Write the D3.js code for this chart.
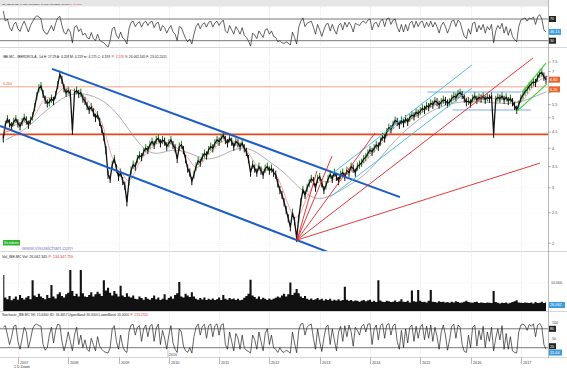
<!DOCTYPE html>
<html>
<head>
<meta charset="utf-8">
<script src="https://cdn.jsdelivr.net/npm/d3@7"></script>
<style>
  body { margin: 0; background: #fff; }
  svg { display: block; font-family: "Liberation Sans", Arial, sans-serif; }
</style>
</head>
<body>
<div class="chart"></div>
<script>
// Step 1: data (half-month bars from Sep 2006)
const priceClose = [
  4.30,4.75,4.95,4.80,4.70,4.85,4.95,4.80,4.70,4.85,
  5.00,4.90,4.75,4.90,5.05,5.40,5.85,6.20,6.30,5.95,
  5.70,5.55,5.60,5.75,5.65,5.90,6.35,6.85,6.60,6.20,
  6.00,6.10,5.95,4.55,6.00,6.10,5.95,6.00,5.75,5.65,
  5.45,5.30,5.40,5.20,5.00,5.10,4.85,4.60,4.35,3.95,
  3.30,3.20,3.55,3.70,3.45,3.25,3.35,3.15,3.05,2.70,
  3.15,3.40,3.55,3.50,3.70,3.80,3.75,3.90,4.00,3.95,
  4.10,4.20,4.10,4.25,4.30,4.15,4.25,4.20,4.05,4.15,
  4.25,4.10,4.00,3.70,4.05,4.10,3.95,3.70,3.45,3.35,
  3.15,3.30,3.50,3.65,3.60,3.75,3.85,3.80,3.95,4.05,
  4.00,4.15,4.25,4.20,4.30,4.40,4.25,4.15,4.30,4.20,
  4.05,4.20,4.15,4.05,4.15,4.00,3.90,3.70,3.35,3.55,
  3.45,3.35,3.50,3.40,3.30,3.45,3.50,3.40,3.45,3.35,
  3.30,3.10,2.95,2.85,2.70,2.55,2.40,2.25,2.50,2.35,
  2.08,2.40,2.70,2.95,2.85,3.00,3.10,3.20,3.15,3.00,
  3.20,3.25,3.10,2.95,3.05,3.20,3.30,3.20,3.35,3.25,
  3.15,3.30,3.35,3.25,3.40,3.35,3.50,3.45,3.35,3.50,
  3.55,3.60,3.70,3.75,3.85,3.95,3.90,4.00,4.10,4.05,
  4.20,4.35,4.30,4.50,4.65,4.60,4.75,4.90,4.85,4.75,
  4.90,4.80,4.95,4.85,5.00,5.10,5.05,5.20,5.15,5.25,
  5.35,5.30,5.45,5.40,5.55,5.50,5.65,5.60,5.50,5.60,
  5.70,5.65,5.55,5.60,5.75,5.85,5.80,5.95,6.00,5.90,
  5.75,5.60,5.65,5.55,5.75,5.85,5.70,5.80,5.75,5.85,
  5.70,5.80,5.75,5.85,4.45,5.70,5.80,5.75,5.85,5.70,
  5.80,5.65,5.75,5.60,5.45,5.30,5.50,5.75,5.90,6.05,
  6.15,6.30,6.40,6.50,6.45,6.70,6.90,6.95,6.75,6.60
];

// red short average, one value every 4 bars
const maFast = [
  4.40,4.70,4.82,4.82,5.15,5.95,5.65,6.30,6.15,6.00,
  5.75,5.25,4.75,3.60,3.45,3.00,3.55,3.85,4.10,4.22,
  4.15,3.95,3.80,3.35,3.70,3.95,4.22,4.28,4.15,4.02,
  3.55,3.40,3.45,3.18,2.62,2.30,2.72,3.10,3.15,3.12,
  3.25,3.32,3.42,3.58,3.85,4.08,4.45,4.78,4.85,5.00,
  5.22,5.42,5.56,5.62,5.75,5.90,5.64,5.77,5.77,5.75,
  5.77,5.60,5.60,6.22,6.62,6.78
];

// grey long average, quarterly from Oct 2006
const maSlow = [
  4.25,4.44,4.74,5.18,5.57,5.93,5.99,5.86,5.60,5.10,
  4.47,3.95,3.81,3.95,3.95,3.81,3.67,3.75,3.95,4.04,
  3.90,3.62,3.41,3.10,2.84,2.74,2.84,3.00,3.17,3.41,
  3.81,4.25,4.63,4.99,5.29,5.49,5.60,5.65,5.60,5.57,
  5.53,5.60,5.82,6.03
];

const rsiValues = [
  85,66,70,55,48,60,64,52,47,58, 66,56,46,58,65,72,76,74,70,50,
  44,42,50,58,48,62,72,75,58,45, 42,52,46,26,55,58,47,52,40,44,
  36,33,45,34,30,42,31,28,26,22, 18,30,52,55,40,34,46,35,32,24,
  52,64,66,56,62,65,55,63,66,58, 64,66,54,62,64,48,58,54,44,52,
  58,46,42,30,56,54,44,34,28,33, 24,42,56,62,52,60,63,55,64,66,
  55,63,66,58,64,68,48,44,58,50, 42,56,50,42,54,40,36,30,20,44,
  40,34,48,42,36,50,52,42,48,38, 36,28,30,26,25,28,26,22,46,36,
  24,55,66,72,56,62,64,66,55,42, 60,50,38,50,60,62,48,60,50,42,
  58,62,50,64,55,64,58,46,62,60, 58,64,66,62,68,70,50,62,64,55,
  66,70,56,70,72,60,68,70,55,46, 60,46,60,48,62,66,54,66,56,64,
  66,54,64,56,66,55,64,56,44,58, 64,56,44,54,66,68,56,68,64,50,
  38,34,52,42,62,64,46,58,50,60, 44,56,50,60,26,48,58,52,62,44,
  56,40,52,38,32,28,56,68,70,72, 66,72,70,74,60,74,78,70,50,46
];

const stochValues = [
  85,90,60,30,55,88,92,40,15,50, 85,70,20,45,80,92,95,90,88,30,
  12,20,60,85,35,75,95,92,40,10, 35,70,40,10,60,85,30,60,20,45,
  15,8,50,30,10,55,25,15,8,5, 3,20,80,90,40,15,60,25,10,5,
  70,92,94,60,85,90,40,80,92,55, 88,94,40,82,95,30,75,50,15,60,
  90,35,15,5,80,70,25,10,5,20, 3,55,85,95,60,88,94,50,90,95,
  55,90,96,60,92,96,30,15,70,40, 10,65,50,15,60,20,12,8,3,60,
  45,15,70,40,10,65,80,30,60,20, 15,5,20,8,5,12,8,3,70,35,
  4,75,95,97,60,85,92,95,50,15, 80,40,8,50,85,92,30,80,45,10,
  70,88,40,90,55,92,70,25,85,75, 60,88,94,70,95,96,30,80,92,45,
  90,96,50,92,97,60,90,95,40,15, 75,20,80,35,85,92,40,88,50,85,
  94,45,88,50,92,40,85,55,15,70, 92,60,12,45,88,95,50,92,85,30,
  8,5,60,20,85,92,25,75,45,88, 20,70,40,85,10,50,80,45,90,15,
  65,15,55,10,5,3,70,92,95,90, 75,94,88,96,55,92,97,85,30,15
];

// volume, thousands of shares
const volumeValues = [
  13000,4600,4000,5200,3600,4200,5000,3800,5600,4400, 3900,4600,5200,4000,11000,5400,4800,6000,5000,4400,
  4000,5600,4400,9300,5000,4300,5800,6600,5200,4600, 5800,6400,14800,7000,5200,6000,5000,14800,6200,5000,
  4800,5600,6600,5000,5800,6800,6000,5200,11000,7200, 8200,6400,5400,7000,6000,5000,9000,5400,4800,6200,
  5000,4600,5400,4200,4000,5000,4400,3800,4800,4200, 3800,4400,5400,4000,4600,3700,4200,5800,3800,4400,
  5000,4200,5600,6200,10400,5000,4600,6000,5400,4800, 6600,5000,4200,3800,4400,3900,4600,3700,4200,3800,
  4300,3700,4000,4600,3700,5600,4200,3800,4400,4000, 4300,3700,4200,3600,3800,4500,5200,6000,11200,5400,
  4800,4200,5000,4000,4500,4200,3700,4300,3800,4200, 4500,5000,4600,5400,6000,5000,5800,10200,5600,6400,
  7800,6200,5000,4400,5200,4200,3800,4300,3700,4000, 4400,3800,4200,3500,4000,3700,4200,3400,3800,3500,
  4000,3400,3700,8600,3800,3400,3700,3200,3500,3400, 3100,3400,3700,3200,3500,3800,3100,3400,3000,11000,
  3500,3100,3000,3400,3200,3000,3100,3500,3000,3200, 4000,3100,3000,3400,2800,7200,3200,3100,7400,3400,
  3000,3100,2800,3400,7400,3100,3000,2800,3200,3000, 3100,2800,3000,2700,3100,2800,3200,3000,2700,2800,
  3100,3400,3000,2800,2700,3000,3100,2600,2800,2700, 2600,2800,2700,2600,7000,3000,2700,2400,2700,2600,
  2800,2400,2700,3000,3200,3600,2800,2700,2600,2800, 2700,2600,2800,2400,3000,2600,2700,3100,2600,2800
];

const yearTicks = [2007,2008,2009,2010,2011,2012,2013,2014,2015,2016,2017];
const priceTicks = [2,2.5,3,3.5,4,4.5,5,5.5,6,6.5,7,7.5];

// hand-drawn lines: [fromYear, fromPrice, toYear, toPrice]
const blueChannel = [[2007.676,7.14,2014.594,2.80],[2006.642,4.71,2013.262,1.85]];
const cyanChannel = [[2013.262,3.34,2016.026,7.35],[2013.203,2.80,2016.026,6.21]];
const greenChannel = [[2017.02,6.03,2017.497,7.45],[2016.901,5.21,2017.517,6.40]];
const fanPivot = [2012.547,2.048];
const fanTargets = [[2012.944,3.39],[2013.243,3.78],[2014.097,4.47],[2017.239,7.73],[2017.378,3.59]];
const rangeBox = [[2015.14,2017.0,6.03],[2015.64,2017.2,5.29]];
const supportLevel = 4.43;
const resistLevel = 6.264;

// Step 2: set up the chart
const svgWidth = 567;
const svgHeight = 368;
const plotRight = 548;

const svg = d3.select(".chart")
    .append("svg")
    .attr("width", svgWidth)
    .attr("height", svgHeight);

const halfMonth = 365.25 / 24 * 864e5;
const firstBar = new Date(2006, 8, 16).getTime();
const barDate = i => new Date(firstBar + i * halfMonth);
const yearDate = yr => {
    const f = Math.floor(yr);
    return new Date(new Date(f, 0, 1).getTime() + (yr - f) * 365.25 * 864e5);
};

const x = d3.scaleTime()
    .domain([new Date(2007, 0, 1), new Date(2017, 0, 1)])
    .range([18, 521]);
const yPrice = d3.scaleLog().domain([2, 4]).range([243.3, 148.3]);
const yRsi = d3.scaleLinear().domain([30, 70]).range([40.7, 19]);
const yVol = d3.scaleLinear().domain([0, 10000]).range([310, 283]);
const yStoch = d3.scaleLinear().domain([0, 100]).range([354, 322.5]);

const defs = svg.append("defs");
function addClip(id, y0, y1) {
    defs.append("clipPath").attr("id", id)
        .append("rect").attr("x", 0).attr("y", y0)
        .attr("width", plotRight).attr("height", y1 - y0);
}
addClip("clipRsi", 7, 47);
addClip("clipPrice", 48, 251);
addClip("clipVol", 262, 311);
addClip("clipStoch", 317, 357);

// header strip + panel separators
svg.append("rect").attr("x", 0).attr("y", 0).attr("width", plotRight).attr("height", 6.5).attr("fill", "#e6e6e6");
[47.5, 251.5, 311.5, 357.5].forEach(yy => {
    svg.append("line").attr("x1", 0).attr("x2", svgWidth).attr("y1", yy).attr("y2", yy)
        .attr("stroke", "#c4c4c4").attr("stroke-width", 0.7);
});
svg.append("line").attr("x1", plotRight + 0.5).attr("x2", plotRight + 0.5)
    .attr("y1", 0).attr("y2", 358).attr("stroke", "#999").attr("stroke-width", 0.7);

// vertical year grid
yearTicks.forEach(yr => {
    const xx = Math.round(x(new Date(yr, 0, 1))) + 0.5;
    svg.append("line").attr("x1", xx).attr("x2", xx).attr("y1", 7).attr("y2", 357)
        .attr("stroke", "#dcdcdc").attr("stroke-width", 0.6).attr("stroke-dasharray", "1,1");
    svg.append("line").attr("x1", xx).attr("x2", xx).attr("y1", 357.5).attr("y2", 364)
        .attr("stroke", "#888").attr("stroke-width", 0.6);
    svg.append("text").attr("x", xx + 1.5).attr("y", 363.5)
        .attr("font-size", 3.8).attr("fill", "#444").text(yr);
});

// value boxes on the right axis (price)
const lastPrice = priceClose[priceClose.length - 1];
const priceBoxY = [yPrice(lastPrice), yPrice(resistLevel) + 2.5];

// faint price grid
priceTicks.forEach(p => {
    const yy = yPrice(p);
    svg.append("line").attr("x1", 0).attr("x2", plotRight).attr("y1", yy).attr("y2", yy)
        .attr("stroke", "#ececec").attr("stroke-width", 0.5).attr("stroke-dasharray", "1,1");
    svg.append("line").attr("x1", plotRight).attr("x2", plotRight + 3).attr("y1", yy).attr("y2", yy)
        .attr("stroke", "#777").attr("stroke-width", 0.5);
    if (priceBoxY.every(b => Math.abs(b - yy) > 5)) {
        svg.append("text").attr("x", plotRight + 4).attr("y", yy + 1.3)
            .attr("font-size", 3.8).attr("fill", "#444").text(p);
    }
});

// Step 3: RSI panel
const rsiGroup = svg.append("g").attr("clip-path", "url(#clipRsi)");
[70, 30].forEach(v => {
    rsiGroup.append("line").attr("x1", 0).attr("x2", plotRight).attr("y1", yRsi(v)).attr("y2", yRsi(v))
        .attr("stroke", "#555").attr("stroke-width", 0.8);
});
rsiGroup.append("path")
    .datum(rsiValues)
    .attr("d", d3.line().x((d, i) => x(barDate(i))).y(d => yRsi(d)))
    .attr("fill", "none").attr("stroke", "#222").attr("stroke-width", 0.7);

// Step 4: price panel
const priceGroup = svg.append("g").attr("clip-path", "url(#clipPrice)");
function seg(g, a, color, w) {
    g.append("line")
        .attr("x1", x(yearDate(a[0]))).attr("y1", yPrice(a[1]))
        .attr("x2", x(yearDate(a[2]))).attr("y2", yPrice(a[3]))
        .attr("stroke", color).attr("stroke-width", w);
}

priceGroup.append("line").attr("x1", 0).attr("x2", plotRight)
    .attr("y1", yPrice(resistLevel)).attr("y2", yPrice(resistLevel))
    .attr("stroke", "#f29b7c").attr("stroke-width", 0.9);
priceGroup.append("line").attr("x1", 0).attr("x2", plotRight)
    .attr("y1", yPrice(supportLevel)).attr("y2", yPrice(supportLevel))
    .attr("stroke", "#e4471f").attr("stroke-width", 1.8);

rangeBox.forEach(r => {
    priceGroup.append("line")
        .attr("x1", x(yearDate(r[0]))).attr("x2", x(yearDate(r[1])))
        .attr("y1", yPrice(r[2])).attr("y2", yPrice(r[2]))
        .attr("stroke", "#a9c9ee").attr("stroke-width", 1.4);
});

priceGroup.append("path")
    .datum(maSlow)
    .attr("d", d3.line().curve(d3.curveBasis).x((d, i) => x(yearDate(2006.75 + i * 0.25))).y(d => yPrice(d)))
    .attr("fill", "none").attr("stroke", "#8c8c8c").attr("stroke-width", 0.7);

priceGroup.append("path")
    .datum(maFast)
    .attr("d", d3.line().curve(d3.curveBasis).x((d, i) => x(barDate(i * 4))).y(d => yPrice(d)))
    .attr("fill", "none").attr("stroke", "#f06a6a").attr("stroke-width", 0.6);

// price bars and close line
priceGroup.selectAll(".bar")
    .data(priceClose)
    .enter()
    .append("line")
    .attr("x1", (d, i) => x(barDate(i))).attr("x2", (d, i) => x(barDate(i)))
    .attr("y1", d => yPrice(d * 1.03)).attr("y2", d => yPrice(d * 0.97))
    .attr("stroke", (d, i) => i > 0 && d >= priceClose[i - 1] ? "#1f7f1f" : "#111")
    .attr("stroke-width", 1);
priceGroup.append("path")
    .datum(priceClose)
    .attr("d", d3.line().x((d, i) => x(barDate(i))).y(d => yPrice(d)))
    .attr("fill", "none").attr("stroke", "#111").attr("stroke-width", 1.3);

// trend lines drawn on top
blueChannel.forEach(l => seg(priceGroup, l, "#1c5cc8", 2));
cyanChannel.forEach(l => seg(priceGroup, l, "#3cb4e4", 0.9));
greenChannel.forEach(l => seg(priceGroup, l, "#39d12f", 1.1));
fanTargets.forEach(t => seg(priceGroup, [fanPivot[0], fanPivot[1], t[0], t[1]], "#e32222", 0.9));

// Step 5: volume panel
const volGroup = svg.append("g").attr("clip-path", "url(#clipVol)");
volGroup.append("line").attr("x1", 0).attr("x2", plotRight).attr("y1", yVol(10000)).attr("y2", yVol(10000))
    .attr("stroke", "#e2e2e2").attr("stroke-width", 0.5).attr("stroke-dasharray", "1,1");
volGroup.append("path")
    .datum(volumeValues)
    .attr("d", d3.area().curve(d3.curveStep)
        .x((d, i) => x(barDate(i))).y0(311).y1(d => yVol(d)))
    .attr("fill", "#111");

// Step 6: stochastic panel
const stochGroup = svg.append("g").attr("clip-path", "url(#clipStoch)");
[80, 20].forEach(v => {
    stochGroup.append("line").attr("x1", 0).attr("x2", plotRight).attr("y1", yStoch(v)).attr("y2", yStoch(v))
        .attr("stroke", "#555").attr("stroke-width", 0.8);
});
stochGroup.append("path")
    .datum(stochValues)
    .attr("d", d3.line().x((d, i) => x(barDate(i))).y(d => yStoch(d)))
    .attr("fill", "none").attr("stroke", "#222").attr("stroke-width", 0.7);

// Step 7: headers, sized so each line spans the width seen in the picture
function header(parts, x0, y0, total) {
    const nodes = parts.map(p => svg.append("text").attr("y", y0)
        .attr("font-size", 10).attr("fill", p[1]).text(p[0]));
    const gap = 2.8;
    const widths = nodes.map(n => n.node().getComputedTextLength());
    const k = total / (d3.sum(widths) + gap * (parts.length - 1));
    let xx = x0;
    nodes.forEach((n, i) => {
        n.attr("font-size", 10 * k).attr("x", xx);
        xx += (widths[i] + gap) * k;
    });
}
header([["RSI_IBE.MC RSI: 46.1500 UpperBand: 70.0000 LowerBand: 30.0000", "#222"],
        ["P: 414.3667", "#e03030"]], 2, 5, 80);
header([["IBE.MC - IBERDROLA - 1d  H: 17:29  A: 4.209  M: 4.219  m: 4.175  C: 4.193", "#222"],
        ["P: 1.576", "#e03030"], ["V: 26.062.345  F: 23-02-2011", "#222"]], 3, 57.5, 164);
header([["Vol_IBE.MC Vol: 26.062.345", "#222"], ["P: 134.347.750", "#e03030"]], 2, 257.5, 71);
header([["Stochastic_IBE.MC SK: 15.6400 SD: 34.4657 UpperBand: 80.0000 LowerBand: 20.0000", "#222"],
        ["P: 223.2700", "#e03030"]], 2, 315.5, 146);

svg.append("text").attr("x", 3).attr("y", yPrice(resistLevel) - 1.5).attr("font-size", 3.6)
    .attr("fill", "#e4602f").text(resistLevel);
svg.append("text").attr("x", 3).attr("y", yPrice(supportLevel) - 2).attr("font-size", 3.6)
    .attr("fill", "#e4602f").text(supportLevel);

svg.append("rect").attr("x", 3).attr("y", 240).attr("width", 17).attr("height", 5.5).attr("fill", "#2fb52f");
header([["Sin órdenes", "#fff"]], 4, 244.2, 15);
header([["www.visualchart.com", "#8a8ad0"]], 22, 249.5, 51);

// right axis value boxes
function valueBox(txt, yy, w, fill) {
    svg.append("rect").attr("x", plotRight + 1).attr("y", yy - 3).attr("width", w).attr("height", 6).attr("fill", fill);
    svg.append("text").attr("x", plotRight + 2).attr("y", yy + 1.4).attr("font-size", 3.8).attr("fill", "#fff").text(txt);
}
valueBox("70", yRsi(70), 7, "#222");
valueBox("30", yRsi(30), 7, "#222");
valueBox("46.15", yRsi(46.15), 12, "#3d9de0");
valueBox(lastPrice.toFixed(2), priceBoxY[0], 11, "#e8642c");
valueBox(resistLevel.toFixed(2), priceBoxY[1], 11, "#e8642c");
svg.append("text").attr("x", plotRight + 3).attr("y", yVol(10000) + 1.3).attr("font-size", 3.6).attr("fill", "#444").text("10.000");
valueBox("26.062", 305, 16, "#3d9de0");
svg.append("text").attr("x", plotRight + 4).attr("y", yStoch(100) + 1.3).attr("font-size", 3.6).attr("fill", "#444").text("100");
svg.append("text").attr("x", plotRight + 4).attr("y", yStoch(50) + 1.3).attr("font-size", 3.6).attr("fill", "#444").text("50");
valueBox("80", yStoch(80), 7, "#222");
valueBox("20", yStoch(20) - 1.5, 7, "#222");
valueBox("15.64", yStoch(15.64) + 3.5, 13, "#3d9de0");

// cursor date mark
const cursorX = x(yearDate(2009.98));
svg.append("line").attr("x1", cursorX).attr("x2", cursorX).attr("y1", 350).attr("y2", 357)
    .attr("stroke", "#888").attr("stroke-width", 0.5);
svg.append("text").attr("x", cursorX + 1).attr("y", 356).attr("font-size", 3.6).attr("fill", "#444").text("2010");

svg.append("text").attr("x", 14).attr("y", 367.5).attr("font-size", 3.6).attr("fill", "#333").text("1 D   Zoom");
</script>
</body>
</html>
